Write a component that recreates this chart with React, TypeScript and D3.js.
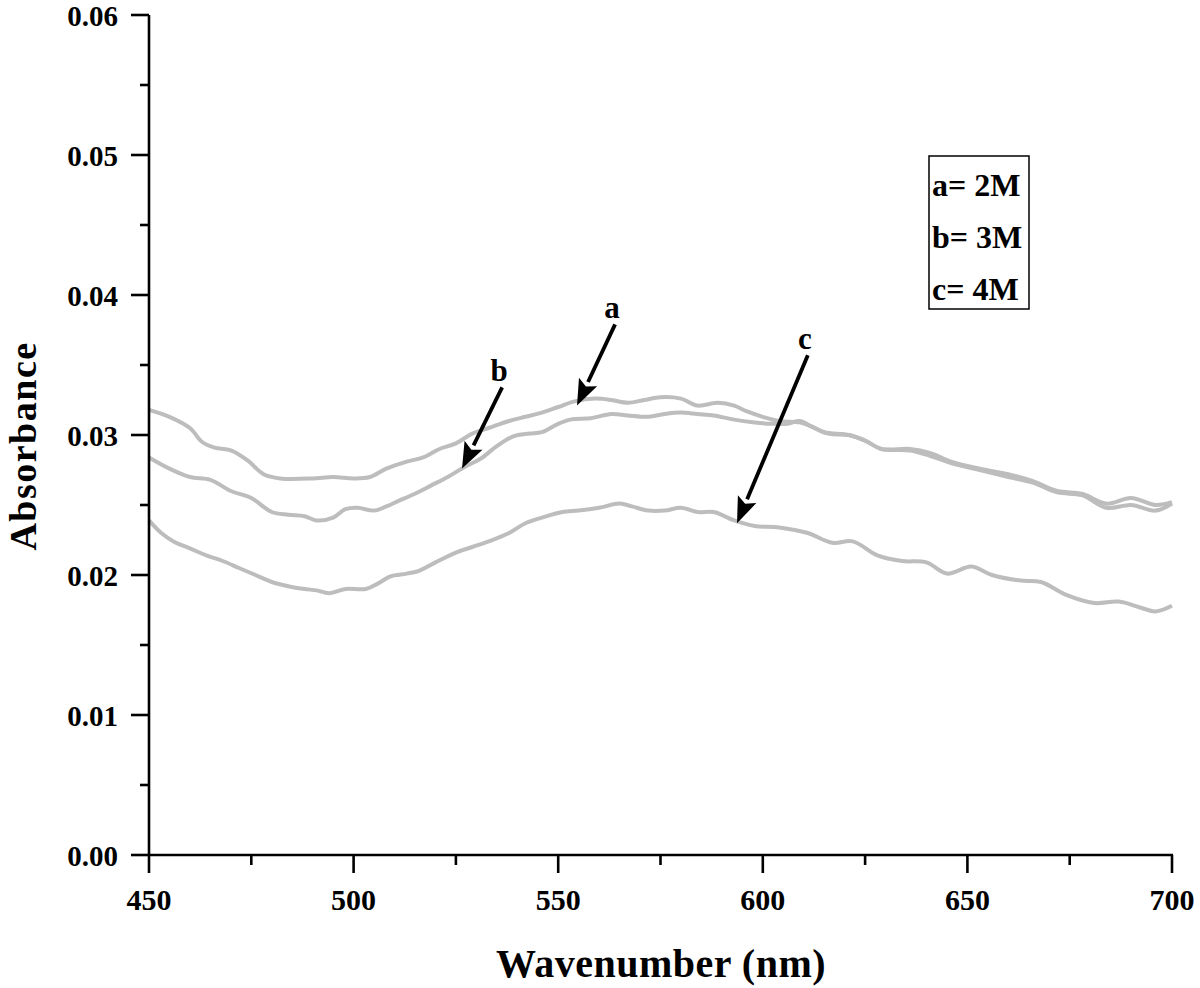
import React from "react";
import * as d3 from "d3";

const wavelengthA = [450,455,460,463,466,470,474,478,482,490,495,500,504,508,513,517,521,525,529,533,538,542,546,550,554,559,563,567,571,575,580,584,589,593,596,600,604,609,612,615,621,625,629,636,641,646,653,660,666,672,678,684,690,696,700];
const absorbA = [0.0318,0.0313,0.0305,0.0295,0.0291,0.0289,0.0282,0.0272,0.0269,0.0269,0.0270,0.0269,0.0270,0.0276,0.0281,0.0284,0.0290,0.0294,0.0301,0.0305,0.0310,0.0313,0.0316,0.0320,0.0324,0.0326,0.0325,0.0323,0.0325,0.0327,0.0326,0.0321,0.0323,0.0321,0.0317,0.0313,0.0310,0.0309,0.0306,0.0302,0.0300,0.0296,0.0290,0.0290,0.0287,0.0281,0.0276,0.0272,0.0267,0.0260,0.0258,0.0251,0.0255,0.0250,0.0252];

const wavelengthB = [450,455,460,465,470,475,480,484,488,491,495,498,501,505,508,511,515,519,523,527,531,535,539,543,546,550,553,558,563,567,572,576,580,584,588,593,598,602,606,609,612,616,621,625,629,636,641,646,653,660,666,672,678,684,690,696,700];
const absorbB = [0.0284,0.0276,0.0270,0.0268,0.0260,0.0255,0.0245,0.0243,0.0242,0.0239,0.0241,0.0247,0.0248,0.0246,0.0249,0.0253,0.0258,0.0264,0.0270,0.0277,0.0283,0.0292,0.0299,0.0301,0.0302,0.0308,0.0311,0.0312,0.0315,0.0314,0.0313,0.0315,0.0316,0.0315,0.0314,0.0311,0.0309,0.0308,0.0308,0.0310,0.0306,0.0301,0.0300,0.0296,0.0290,0.0289,0.0285,0.0280,0.0275,0.0270,0.0266,0.0259,0.0257,0.0248,0.0250,0.0246,0.0251];

const wavelengthC = [450,453,456,460,464,468,472,476,480,484,488,491,494,498,503,506,509,513,516,520,525,529,533,538,542,546,551,555,560,565,568,572,576,580,584,588,593,598,604,611,617,622,628,634,640,645,651,656,663,668,674,681,687,692,696,700];
const absorbC = [0.0239,0.0230,0.0224,0.0219,0.0214,0.0210,0.0205,0.0200,0.0195,0.0192,0.0190,0.0189,0.0187,0.0190,0.0190,0.0194,0.0199,0.0201,0.0203,0.0209,0.0216,0.0220,0.0224,0.0230,0.0237,0.0241,0.0245,0.0246,0.0248,0.0251,0.0249,0.0246,0.0246,0.0248,0.0245,0.0245,0.0239,0.0235,0.0234,0.0230,0.0223,0.0224,0.0214,0.0210,0.0209,0.0201,0.0206,0.0200,0.0196,0.0195,0.0186,0.0180,0.0181,0.0177,0.0174,0.0178];

const xTicks = [450, 500, 550, 600, 650, 700];
const xMinorTicks = [475, 525, 575, 625, 675];
const yTicks = [0, 0.01, 0.02, 0.03, 0.04, 0.05, 0.06];
const yMinorTicks = [0.005, 0.015, 0.025, 0.035, 0.045, 0.055];

const legendLabels = ["a= 2M", "b= 3M", "c= 4M"];
// annotation arrows: label, start (wavelength, absorbance), tip (wavelength, absorbance)
const arrowLabels = ["a", "b", "c"];
const arrowStart = [[563.9, 0.0379], [536.3, 0.0334], [611.0, 0.0357]];
const arrowTip = [[554.6, 0.0321], [526.5, 0.0276], [593.7, 0.0237]];

const FONT = "'Liberation Serif', 'Times New Roman', serif";

export default function App() {
  const x = d3.scaleLinear().domain([450, 700]).range([149, 1172]);
  const y = d3.scaleLinear().domain([0, 0.06]).range([855, 15]);

  const line = d3
    .line<[number, number]>()
    .x((d) => x(d[0]))
    .y((d) => y(d[1]))
    .curve(d3.curveCatmullRom.alpha(0.5));

  const series = [
    wavelengthA.map((w, i) => [w, absorbA[i]] as [number, number]),
    wavelengthB.map((w, i) => [w, absorbB[i]] as [number, number]),
    wavelengthC.map((w, i) => [w, absorbC[i]] as [number, number]),
  ];

  const arrows = arrowLabels.map((lab, i) => {
    const x0 = x(arrowStart[i][0]);
    const y0 = y(arrowStart[i][1]);
    const x1 = x(arrowTip[i][0]);
    const y1 = y(arrowTip[i][1]);
    const dx = x1 - x0;
    const dy = y1 - y0;
    const len = Math.sqrt(dx * dx + dy * dy);
    const ux = dx / len;
    const uy = dy / len;
    const hl = 26;
    const hw = 10;
    const bx = x1 - ux * hl;
    const by = y1 - uy * hl;
    const pts = [
      [x1, y1],
      [bx - uy * hw, by + ux * hw],
      [bx + ux * 5, by + uy * 5],
      [bx + uy * hw, by - ux * hw],
    ];
    return { lab, x0, y0, bx, by, pts };
  });

  return (
    <svg
      width={1200}
      height={988}
      style={{ position: "absolute", left: 0, top: 0, background: "#fff" }}
      fontFamily={FONT}
      fontWeight="bold"
    >
      <rect x={0} y={0} width={1200} height={988} fill="#fff" />
      {series.map((s, i) => (
        <path key={i} d={line(s) || ""} fill="none" stroke="#bdbdbd" strokeWidth={4} strokeLinejoin="round" />
      ))}

      {/* axes */}
      <line x1={149} y1={15} x2={149} y2={855} stroke="#000" strokeWidth={2.6} />
      <line x1={149} y1={855} x2={1173} y2={855} stroke="#000" strokeWidth={2.6} />
      {yTicks.map((t) => (
        <g key={"y" + t}>
          <line x1={131} x2={149} y1={y(t)} y2={y(t)} stroke="#000" strokeWidth={2.6} />
          <text x={118} y={y(t) + 11} textAnchor="end" fontSize={29}>
            {d3.format(".2f")(t)}
          </text>
        </g>
      ))}
      {yMinorTicks.map((t) => (
        <line key={"ym" + t} x1={140} x2={149} y1={y(t)} y2={y(t)} stroke="#000" strokeWidth={2.6} />
      ))}
      {xTicks.map((t) => (
        <g key={"x" + t}>
          <line x1={x(t)} x2={x(t)} y1={855} y2={873} stroke="#000" strokeWidth={2.6} />
          <text x={x(t)} y={910} textAnchor="middle" fontSize={30}>
            {t}
          </text>
        </g>
      ))}
      {xMinorTicks.map((t) => (
        <line key={"xm" + t} x1={x(t)} x2={x(t)} y1={855} y2={865} stroke="#000" strokeWidth={2.6} />
      ))}

      <text x={661} y={977} textAnchor="middle" fontSize={40} letterSpacing={0.5}>
        Wavenumber (nm)
      </text>
      <text
        transform="translate(36,446) rotate(-90)"
        textAnchor="middle"
        fontSize={38}
        letterSpacing={1.5}
      >
        Absorbance
      </text>

      {/* arrows */}
      {arrows.map((a) => (
        <g key={a.lab}>
          <line x1={a.x0} y1={a.y0} x2={a.bx} y2={a.by} stroke="#000" strokeWidth={3.8} />
          <polygon points={a.pts.map((p) => p.join(",")).join(" ")} fill="#000" />
          <text x={a.x0 - 3} y={a.y0 - 6} textAnchor="middle" fontSize={31}>
            {a.lab}
          </text>
        </g>
      ))}

      {/* legend */}
      <rect x={929} y={156} width={100} height={153} fill="none" stroke="#000" strokeWidth={1.5} />
      {legendLabels.map((l, i) => (
        <text key={l} x={932} y={196 + i * 52} fontSize={32}>
          {l}
        </text>
      ))}
    </svg>
  );
}
